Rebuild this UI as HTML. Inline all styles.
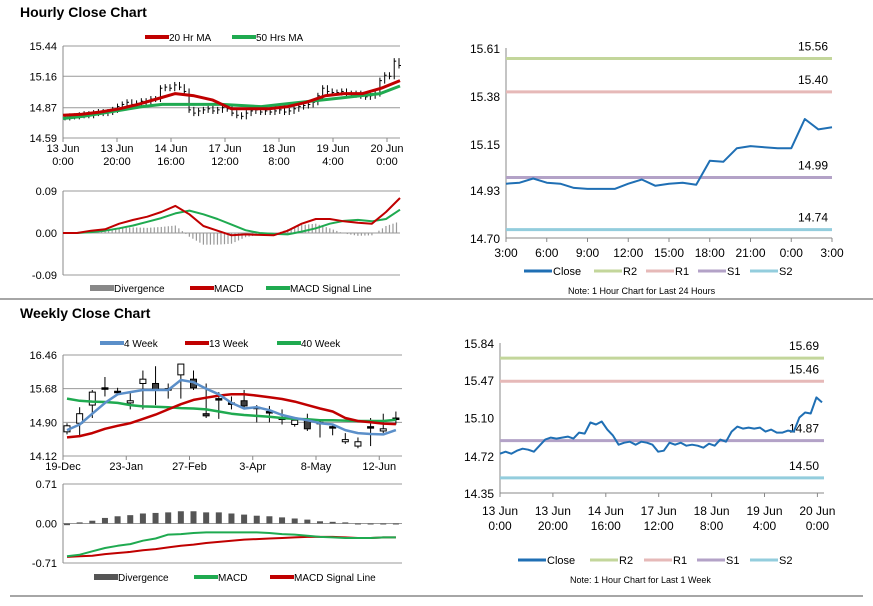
<!DOCTYPE html>
<html><head><meta charset="utf-8"><style>
body{margin:0;background:#fff;width:873px;height:601px;overflow:hidden;font-family:"Liberation Sans",Arial,sans-serif}
svg text{font-family:"Liberation Sans",Arial,sans-serif;fill:#000}
</style></head><body>
<svg id="s" width="873" height="601" xmlns="http://www.w3.org/2000/svg">
<text x="20" y="17" font-size="14" font-weight="bold">Hourly Close Chart</text>
<text x="20" y="318" font-size="14" font-weight="bold">Weekly Close Chart</text>
<line x1="0" y1="299" x2="873" y2="299" stroke="#888" stroke-width="1.5"/>
<line x1="10" y1="596" x2="863" y2="596" stroke="#888" stroke-width="1.5"/>
</svg>
<script>
const hourlyClose=[14.78,14.79,14.79,14.80,14.81,14.80,14.82,14.83,14.82,14.83,14.85,14.88,14.90,14.92,14.90,14.91,14.93,14.92,14.95,14.95,15.05,15.06,15.05,15.08,15.06,15.02,14.85,14.82,14.84,14.85,14.86,14.84,14.85,14.87,14.86,14.82,14.80,14.79,14.82,14.84,14.85,14.83,14.84,14.83,14.84,14.85,14.83,14.84,14.86,14.88,14.89,14.90,14.92,14.98,15.05,15.02,15.01,15.01,15.02,15.00,14.99,15.0,14.98,14.97,14.98,15.00,15.12,15.17,15.16,15.30,15.26];
const hourlyMA20=[14.80,14.81,14.83,14.86,14.90,14.95,15.00,14.98,14.94,14.86,14.86,14.86,14.88,14.92,14.98,15.0,15.0,15.05,15.12];
const hourlyMA50=[14.77,14.79,14.82,14.85,14.88,14.90,14.90,14.90,14.90,14.89,14.88,14.90,14.92,14.94,14.96,14.98,15.0,15.07];
const hourlyTicks=["15.44","15.16","14.87","14.59"];
const hourlyCats=[["13 Jun","0:00"],["13 Jun","20:00"],["14 Jun","16:00"],["17 Jun","12:00"],["18 Jun","8:00"],["19 Jun","4:00"],["20 Jun","0:00"]];
const hMacd=[0,0,0.005,0.008,0.02,0.028,0.035,0.045,0.058,0.04,0.015,0.005,-0.005,-0.003,-0.004,-0.005,0.005,0.02,0.03,0.03,0.025,0.022,0.02,0.045,0.075];
const hSignal=[0,0,0.002,0.005,0.01,0.016,0.024,0.032,0.042,0.048,0.04,0.03,0.018,0.006,0,-0.002,-0.003,0.003,0.01,0.02,0.026,0.028,0.025,0.03,0.05];
const dayClose=[14.96,14.965,14.985,14.965,14.96,14.94,14.935,14.935,14.935,14.96,14.98,14.95,14.96,14.965,14.955,15.07,15.065,15.13,15.14,15.135,15.13,15.13,15.27,15.22,15.23];
const dayCats=["3:00","6:00","9:00","12:00","15:00","18:00","21:00","0:00","3:00"];
const dayLevels=[15.56,15.40,14.99,14.74];
const weekClose=[14.74,14.76,14.74,14.77,14.79,14.78,14.76,14.82,14.88,14.90,14.89,14.90,14.91,14.89,14.95,14.94,15.05,15.03,15.06,14.98,14.92,14.83,14.85,14.86,14.83,14.86,14.85,14.83,14.76,14.77,14.85,14.83,14.85,14.82,14.83,14.82,14.80,14.84,14.82,14.88,14.86,14.96,15.01,14.99,15.00,14.99,15.00,14.96,14.98,14.95,14.95,14.97,14.96,15.10,15.15,15.14,15.30,15.25];
const weekLevels=[15.69,15.46,14.87,14.50];
const wOpen=[14.68,14.88,15.30,15.70,15.62,15.35,15.80,15.80,15.68,16.00,15.90,15.10,15.45,15.35,15.40,15.25,15.15,15.00,14.85,14.95,14.90,14.80,14.45,14.35,14.80,14.70,15.00];
const wClose=[14.82,15.10,15.60,15.70,15.62,15.40,15.90,15.65,15.68,16.25,15.70,15.05,15.45,15.35,15.28,15.25,15.15,15.00,14.95,14.75,14.90,14.80,14.50,14.45,14.80,14.75,15.00];
const wHigh=[14.88,15.25,15.65,15.95,15.70,15.60,16.10,16.20,15.80,16.25,16.10,15.80,15.60,15.50,15.65,15.30,15.28,15.20,15.00,15.10,14.95,14.85,14.65,14.55,15.00,15.10,15.15];
const wLow=[14.62,14.60,15.00,15.50,15.55,15.20,15.20,15.30,15.45,15.45,15.65,15.00,14.98,15.20,15.20,14.90,14.90,14.85,14.80,14.70,14.55,14.60,14.40,14.30,14.35,14.65,14.85];
const ma4=[14.72,14.85,15.1,15.35,15.55,15.6,15.65,15.65,15.65,15.88,15.83,15.68,15.55,15.35,15.22,15.25,15.18,15.07,15.0,14.95,14.88,14.85,14.72,14.65,14.63,14.62,14.72];
const ma13=[14.55,14.58,14.65,14.75,14.82,14.88,14.98,15.08,15.2,15.32,15.42,15.47,15.52,15.55,15.55,15.52,15.48,15.44,15.38,15.3,15.22,15.15,15.0,14.93,14.9,14.87,14.86];
const ma40=[15.45,15.4,15.38,15.37,15.35,15.3,15.27,15.26,15.25,15.23,15.22,15.2,15.15,15.1,15.07,15.05,15.03,15.0,14.98,14.97,14.95,14.95,14.94,14.93,14.93,14.93,14.96];
const wDiv=[-0.03,0.02,0.05,0.1,0.13,0.15,0.18,0.19,0.2,0.22,0.22,0.2,0.2,0.18,0.16,0.14,0.13,0.11,0.09,0.07,0.04,0.03,0.02,-0.01,-0.01,-0.01,-0.01];
const wMacd=[-0.59,-0.56,-0.50,-0.44,-0.40,-0.37,-0.31,-0.27,-0.20,-0.19,-0.17,-0.16,-0.16,-0.16,-0.16,-0.16,-0.17,-0.19,-0.20,-0.22,-0.24,-0.25,-0.26,-0.26,-0.26,-0.25,-0.25];
const wSignal=[-0.60,-0.59,-0.58,-0.55,-0.53,-0.51,-0.48,-0.46,-0.43,-0.40,-0.38,-0.35,-0.33,-0.31,-0.29,-0.28,-0.27,-0.26,-0.25,-0.24,-0.24,-0.24,-0.25,-0.26,-0.26,-0.25,-0.25];
const weekCats=["19-Dec","23-Jan","27-Feb","3-Apr","8-May","12-Jun"];
const wCatIdx=[0,5,10,15,20,25];
const bwCats=[["13 Jun","0:00"],["13 Jun","20:00"],["14 Jun","16:00"],["17 Jun","12:00"],["18 Jun","8:00"],["19 Jun","4:00"],["20 Jun","0:00"]];

const S=document.getElementById('s');const NS='http://www.w3.org/2000/svg';
function mk(t,a,txt){const e=document.createElementNS(NS,t);for(const k in a)e.setAttribute(k,a[k]);if(txt!==undefined)e.textContent=txt;S.appendChild(e);return e;}
function lin(d0,d1,r0,r1){return v=>r0+(v-d0)/(d1-d0)*(r1-r0);}
function poly(xs,ys,col,w,name){const p=xs.map((x,i)=>x.toFixed(1)+','+ys[i].toFixed(1)).join(' ');const e=mk('polyline',{points:p,fill:'none',stroke:col,'stroke-width':w,'stroke-linejoin':'round'});

return e;}
function txt(x,y,s,anchor,size,name){const e=mk('text',{x:x,y:y,'font-size':size||11,'text-anchor':anchor||'start'},s);

return e;}
function hl(x1,x2,y,col,w,name){const e=mk('line',{x1:x1,x2:x2,y1:y,y2:y,stroke:col,'stroke-width':w||1});

return e;}
function vl(x,y1,y2,col,w,name){const e=mk('line',{x1:x,x2:x,y1:y1,y2:y2,stroke:col,'stroke-width':w||1});

return e;}
function legend(items,y){items.forEach(it=>{if(it.bar){const r=mk('rect',{x:it.x,y:y-4,width:24,height:6,fill:it.col});

}else hl(it.x,it.x+24,y-1,it.col,4,'legend-swatch');txt(it.x+24,y+3,it.label,'start',10,'legend-entry');});}
const GRID='#999';

// Hourly price
(function(){const X0=63,X1=400,Y=lin(14.59,15.44,138,46);
hourlyTicks.forEach(t=>{const y=Y(+t);hl(X0,X1,y,GRID,1,'gridline');txt(X0-6,y+4,t,'end',11,'y-tick-label');});
vl(X0,46,138,'#888',1,'y-axis');
hourlyCats.forEach((c,i)=>{const x=X0+i*54;vl(x,138,142,'#888',1,'x-tick');txt(x,152,c[0],'middle',11,'x-tick-label');txt(x,165,c[1],'middle',11,'x-tick-label');});
const n=hourlyClose.length,dx=(X1-X0-3)/(n-1);
hourlyClose.forEach((v,i)=>{const p=i?hourlyClose[i-1]:v;const x=X0+2+i*dx;const a=Y(Math.max(v,p))-3,b=Y(Math.min(v,p))+3;vl(x,a,b,'#000',1,'hourly-bar');hl(x,x+2,Y(v),'#000',1,'hourly-bar-tick');});
poly(hourlyMA50.map((v,i)=>X0+i*(X1-X0)/(hourlyMA50.length-1)),hourlyMA50.map(Y),'#1faa50',3,'ma50-line');
poly(hourlyMA20.map((v,i)=>X0+i*(X1-X0)/(hourlyMA20.length-1)),hourlyMA20.map(Y),'#c00000',3,'ma20-line');
legend([{x:145,col:'#c00000',label:'20 Hr MA'},{x:232,col:'#1faa50',label:'50 Hrs MA'}],38);
// MACD
const M=lin(-0.09,0.09,275,191);
[["0.09",0.09],["0.00",0],["-0.09",-0.09]].forEach(t=>{hl(X0,X1,M(t[1]),GRID,1,'gridline');txt(X0-6,M(t[1])+4,t[0],'end',11,'y-tick-label');});
vl(X0,191,275,'#888',1,'y-axis');
const m=hMacd.length,ddx=(X1-X0)/(m-1);
for(let i=0;i<m-1;i++){for(let k=0;k<4;k++){const f=k/4;const d=(hMacd[i]-hSignal[i])*(1-f)+(hMacd[i+1]-hSignal[i+1])*f;const x=X0+i*ddx+k*ddx/4;vl(x,M(0),M(d),'#999',1.2,'divergence-bar');}}
poly(hSignal.map((v,i)=>X0+i*ddx),hSignal.map(M),'#1faa50',2,'macd-signal-line');
poly(hMacd.map((v,i)=>X0+i*ddx),hMacd.map(M),'#c00000',2,'macd-line');
legend([{x:90,col:'#888',label:'Divergence',bar:1},{x:190,col:'#c00000',label:'MACD'},{x:266,col:'#1faa50',label:'MACD Signal Line'}],289);
})();

// Right top: 24h
(function(){const X0=506,X1=832,Y=lin(14.70,15.61,238,48);
[15.61,15.38,15.15,14.93,14.70].forEach(t=>txt(X0-6,Y(t)+5,t.toFixed(2),'end',12,'y-tick-label'));
vl(X0,48,238,'#888',1,'y-axis');hl(X0,X1,238,'#888',1,'x-axis');
dayCats.forEach((c,i)=>{const x=X0+i*(X1-X0)/8;vl(x,238,242,'#888',1,'x-tick');txt(x,257,c,'middle',12,'x-tick-label');});
const cols=['#c3d69b','#e6b9b8','#b3a2c7','#93cddd'];
dayLevels.forEach((v,i)=>{hl(X0,X1,Y(v),cols[i],3,'level-line');txt(X1-4,Y(v)-8,v.toFixed(2),'end',12,'level-label');});
const dx=(X1-X0)/(dayClose.length-1);
poly(dayClose.map((v,i)=>X0+i*dx),dayClose.map(Y),'#1f6fb4',2,'close-line');
const lg=[['Close','#1f6fb4'],['R2','#c3d69b'],['R1','#e6b9b8'],['S1','#b3a2c7'],['S2','#93cddd']];const lx=[524,594,646,698,750];
lg.forEach((l,i)=>{hl(lx[i],lx[i]+28,271,l[1],3,'legend-swatch');txt(lx[i]+29,275,l[0],'start',11,'legend-entry');});
txt(568,294,'Note: 1 Hour Chart for Last 24 Hours','start',9,'chart-note');
})();

// Weekly price
(function(){const X0=63,X1=402,Y=lin(14.12,16.46,456,355);const xi=i=>67+i*12.65;
[["16.46",16.46],["15.68",15.68],["14.90",14.90],["14.12",14.12]].forEach(t=>{hl(X0,X1,Y(t[1]),GRID,1,'gridline');txt(X0-6,Y(t[1])+4,t[0],'end',11,'y-tick-label');});
vl(X0,355,456,'#888',1,'y-axis');
weekCats.forEach((c,i)=>{const x=X0+wCatIdx[i]*12.65;vl(x,456,460,'#888',1,'x-tick');txt(x,470,c,'middle',11,'x-tick-label');});
wOpen.forEach((o,i)=>{const c=wClose[i],x=xi(i);vl(x,Y(wHigh[i]),Y(wLow[i]),'#000',1,'candle-wick');
const top=Y(Math.max(o,c)),bot=Y(Math.min(o,c));const h=Math.max(bot-top,1.5);
const r=mk('rect',{x:x-3,y:top,width:6,height:h,fill:c>o?'#fff':(c<o?'#404040':'#000'),stroke:'#000','stroke-width':1});

});
poly(ma40.map((v,i)=>xi(i)),ma40.map(Y),'#1faa50',2.5,'ma40-line');
poly(ma13.map((v,i)=>xi(i)),ma13.map(Y),'#c00000',2.5,'ma13-line');
poly(ma4.map((v,i)=>xi(i)),ma4.map(Y),'#5b8fc9',2.5,'ma4-line');
legend([{x:100,col:'#5b8fc9',label:'4 Week'},{x:185,col:'#c00000',label:'13 Week'},{x:277,col:'#1faa50',label:'40 Week'}],344);
const M=lin(-0.71,0.71,563,484);
[["0.71",0.71],["0.00",0],["-0.71",-0.71]].forEach(t=>{hl(X0,X1,M(t[1]),GRID,1,'gridline');txt(X0-6,M(t[1])+4,t[0],'end',11,'y-tick-label');});
vl(X0,484,563,'#888',1,'y-axis');
wDiv.forEach((d,i)=>{const a=M(Math.max(d,0)),b=M(Math.min(d,0));const r=mk('rect',{x:xi(i)-3,y:a,width:6,height:Math.max(b-a,1),fill:'#555'});

});
poly(wSignal.map((v,i)=>xi(i)),wSignal.map(M),'#c00000',2,'macd-signal-line');
poly(wMacd.map((v,i)=>xi(i)),wMacd.map(M),'#1faa50',2,'macd-line');
legend([{x:94,col:'#555',label:'Divergence',bar:1},{x:194,col:'#1faa50',label:'MACD'},{x:270,col:'#c00000',label:'MACD Signal Line'}],578);
})();

// Right bottom: week
(function(){const X0=500,X1=824,Y=lin(14.35,15.84,493,343);
[15.84,15.47,15.10,14.72,14.35].forEach(t=>txt(X0-6,Y(t)+5,t.toFixed(2),'end',12,'y-tick-label'));
vl(X0,343,493,'#888',1,'y-axis');hl(X0,X1,493,'#888',1,'x-axis');
bwCats.forEach((c,i)=>{const x=X0+i*52.9;vl(x,493,497,'#888',1,'x-tick');txt(x,515,c[0],'middle',12,'x-tick-label');txt(x,530,c[1],'middle',12,'x-tick-label');});
const cols=['#c3d69b','#e6b9b8','#b3a2c7','#93cddd'];
weekLevels.forEach((v,i)=>{hl(X0,X1,Y(v),cols[i],3,'level-line');txt(X1-5,Y(v)-8,v.toFixed(2),'end',12,'level-label');});
const dx=(X1-X0-2)/(weekClose.length-1);
poly(weekClose.map((v,i)=>X0+i*dx),weekClose.map(Y),'#1f6fb4',2,'close-line');
const lg=[['Close','#1f6fb4'],['R2','#c3d69b'],['R1','#e6b9b8'],['S1','#b3a2c7'],['S2','#93cddd']];const lx=[518,590,644,697,750];
lg.forEach((l,i)=>{hl(lx[i],lx[i]+28,560,l[1],3,'legend-swatch');txt(lx[i]+29,564,l[0],'start',11,'legend-entry');});
txt(570,583,'Note: 1 Hour Chart for Last 1 Week','start',9,'chart-note');
})();
</script>
</body></html>
